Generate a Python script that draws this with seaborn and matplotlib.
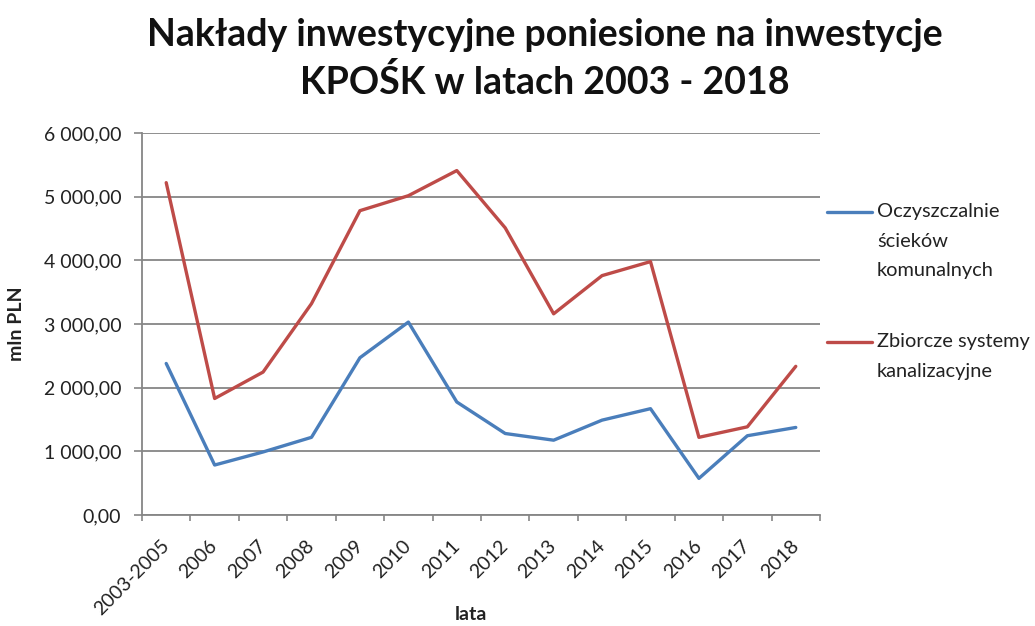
import numpy as np
import pandas as pd
import matplotlib
matplotlib.use("Agg")
import matplotlib.pyplot as plt
import seaborn as sns
from matplotlib.ticker import FuncFormatter, FixedLocator
from matplotlib.lines import Line2D

# ---- data ----
years = ["2003-2005", "2006", "2007", "2008", "2009", "2010", "2011",
         "2012", "2013", "2014", "2015", "2016", "2017", "2018"]
oczyszczalnie = [2380, 785, 990, 1220, 2470, 3030, 1775,
                 1280, 1175, 1490, 1670, 575, 1245, 1375]
kanalizacja = [5220, 1830, 2245, 3320, 4780, 5015, 5410,
               4510, 3160, 3760, 3980, 1220, 1385, 2335]
series_names = ["Oczyszczalnie ścieków komunalnych", "Zbiorcze systemy kanalizacyjne"]
legend_labels = ["Oczyszczalnie\nścieków\nkomunalnych", "Zbiorcze systemy\nkanalizacyjne"]
colors = ["#4A7EBB", "#BE4B48"]
yticks = [0, 1000, 2000, 3000, 4000, 5000, 6000]
title = "Nakłady inwestycyjne poniesione na inwestycje\nKPOŚK w latach 2003 - 2018"
xlabel = "lata"
ylabel = "mln PLN"

df = pd.DataFrame({
    "rok": years * 2,
    "wartosc": oczyszczalnie + kanalizacja,
    "seria": [series_names[0]] * len(years) + [series_names[1]] * len(years),
})

sns.set_theme(style="white")
plt.rcParams["font.family"] = ["Lato", "DejaVu Sans"]
TXT = "#222222"
GRID = "#868686"
FS = 14
LFS = 14.4

fig = plt.figure(figsize=(10.35, 6.26), dpi=100)
ax = fig.add_axes([142 / 1035, 1 - 515 / 626, 678 / 1035, 382 / 626])

sns.lineplot(data=df, x="rok", y="wartosc", hue="seria",
             palette=dict(zip(series_names, colors)), sort=False,
             linewidth=2.4, ax=ax, legend=False)

ax.set_ylim(0, 6000)
ax.set_xlim(-0.5, len(years) - 0.5)

# y axis
ax.yaxis.set_major_locator(FixedLocator(yticks))
ax.yaxis.set_major_formatter(FuncFormatter(
    lambda v, p: f"{v:,.2f}".replace(",", " ").replace(".", ",")))
ax.yaxis.grid(True, color=GRID, linewidth=1.3)
ax.set_axisbelow(True)
ax.tick_params(axis="y", length=6, width=1.2, color=GRID, direction="out",
               left=True, labelsize=FS, labelcolor=TXT, pad=9)

# x axis
ax.set_xticks(range(len(years)))
ax.set_xticklabels(years, rotation=45, ha="right", va="center",
                   rotation_mode="anchor")
ax.set_xticks(np.arange(-0.5, len(years), 1.0), minor=True)
ax.tick_params(axis="x", which="major", length=0, labelsize=FS,
               labelcolor=TXT, pad=20)
ax.tick_params(axis="x", which="minor", length=4.5, width=1.2, color=GRID,
               direction="out", bottom=True)

for s in ["top", "right"]:
    ax.spines[s].set_visible(False)
for s in ["left", "bottom"]:
    ax.spines[s].set_color(GRID)
    ax.spines[s].set_linewidth(1.3)

ax.set_xlabel(xlabel, fontsize=FS, color=TXT, fontweight="bold")
ax.set_ylabel(ylabel, fontsize=FS, color=TXT, fontweight="bold")
ax.xaxis.set_label_coords(0.485, -0.238)
ax.yaxis.set_label_coords(-0.172, 0.5)

fig.text(545 / 1035, 1 - 59 / 626, title, ha="center", va="center",
         fontsize=27, fontweight="bold", color="#111111", linespacing=1.38)

handles = [Line2D([], [], color=c, linewidth=2.4) for c in colors]
leg = ax.legend(handles, legend_labels, loc="upper left",
                bbox_to_anchor=(827 / 1035, 1 - 203 / 626),
                bbox_transform=fig.transFigure, frameon=False,
                fontsize=LFS, handlelength=2.25, handletextpad=0.25,
                borderpad=0, borderaxespad=0, labelspacing=2.7,
                handleheight=1.2)
for t in leg.get_texts():
    t.set_color(TXT)
    t.set_linespacing(1.9)
for col in leg._legend_handle_box.get_children():
    for item in col.get_children():
        item.align = "top"

fig.savefig("out.png", dpi=100, facecolor="white")
